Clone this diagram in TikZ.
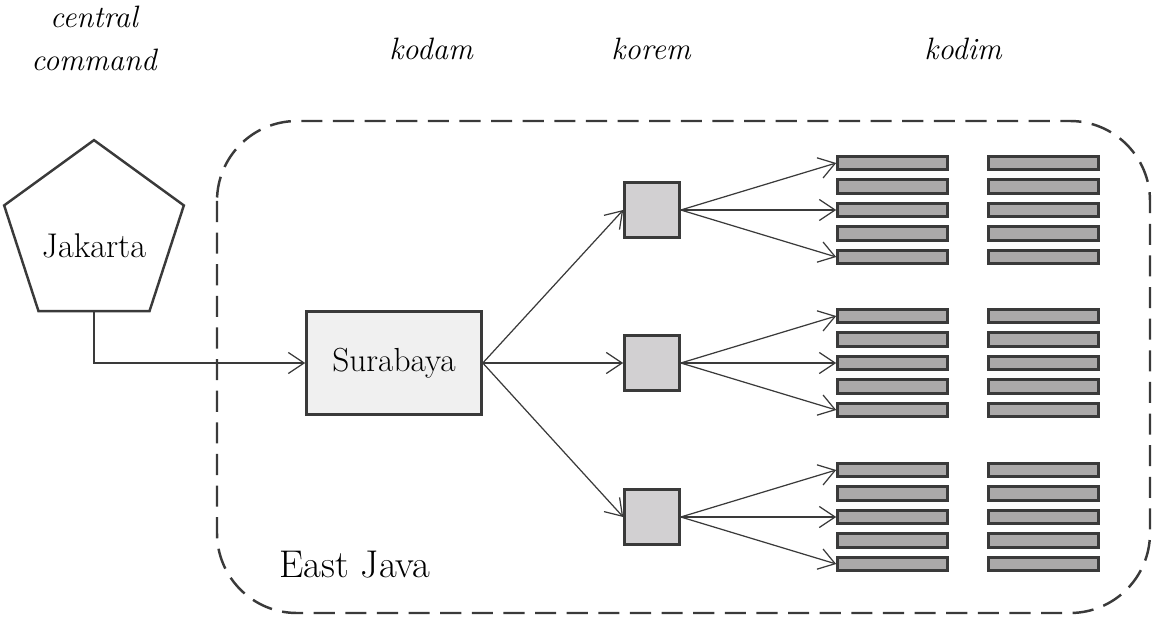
\documentclass[tikz,border=0pt]{standalone}
\usepackage{fontspec}
\usetikzlibrary{arrows.meta,shapes.geometric}
\definecolor{edge}{HTML}{3A3A3A}
\definecolor{kodamfill}{HTML}{F0F0F0}
\definecolor{koremfill}{HTML}{D2D0D2}
\definecolor{kodimfill}{HTML}{ABA9A9}
\begin{document}
\begin{tikzpicture}[x=0.02cm,y=-0.02cm,
  conn/.style={draw=edge, line width=0.7pt, -{Straight Barb[length=9pt,width=12pt,line width=0.7pt]}},
  heading/.style={font=\fontsize{17.6}{20}\selectfont\itshape},
  capital/.style={draw=edge, line width=1.4pt, regular polygon, regular polygon sides=5, minimum size=3.78cm, inner sep=0pt},
  kodambox/.style={draw=edge, fill=kodamfill, line width=1.5pt, minimum width=3.5cm, minimum height=2.06cm, inner sep=0pt, font=\fontsize{19}{22}\selectfont},
  korembox/.style={draw=edge, fill=koremfill, line width=1.5pt, minimum size=1.1cm, inner sep=0pt},
  kodimbar/.style={draw=edge, fill=kodimfill, line width=1.5pt, minimum width=2.2cm, minimum height=0.27cm, inner sep=0pt},
  region/.style={draw=edge, line width=1.4pt, dash pattern=on 12pt off 6pt, rounded corners=1.6cm}
]
\useasboundingbox (0,0) rectangle (1157,622);

% headings
\node[heading] (hcentral) at (94,17) {central};
\node[heading] (hcommand) at (94,60) {command};
\node[heading] (hkodam) at (431,49) {kodam};
\node[heading] (hkorem) at (651,49) {korem};
\node[heading] (hkodim) at (963,49) {kodim};

% region
\draw[region] (217,121) rectangle (1150,613);
\node[font=\fontsize{22}{26}\selectfont] (ejava) at (355,565) {East Java};

% capital
\node[capital] (jak) at (94,234.6) {};
\node[font=\fontsize{19.5}{22}\selectfont] (jaktext) at (94,246) {Jakarta};

% kodam
\node[kodambox] (sur) at (394,363) {Surabaya};
\draw[conn] (jak.south) |- (sur.west);

% korem and kodim
\foreach \i/\y in {1/210,2/363,3/517}{
  \node[korembox] (k\i) at (652,\y) {};
  \draw[conn] (sur.east) -- (k\i.west);
  \foreach \j/\dy in {1/-47,2/-23.5,3/0,4/23.5,5/47}{
    \node[kodimbar] (a\i\j) at (892.5,\y+\dy) {};
    \node[kodimbar] (b\i\j) at (1043.5,\y+\dy) {};
  }
  \draw[conn] (k\i.east) -- (a\i1.west);
  \draw[conn] (k\i.east) -- (a\i3.west);
  \draw[conn] (k\i.east) -- (a\i5.west);
}
\end{tikzpicture}
\end{document}
